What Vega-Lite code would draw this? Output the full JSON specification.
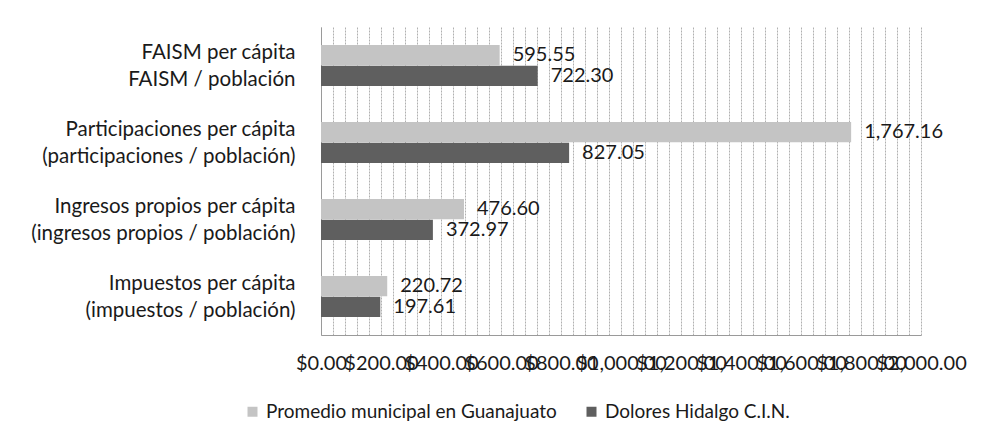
{
  "$schema": "https://vega.github.io/schema/vega-lite/v6.json",
  "width": 600,
  "height": 308,
  "autosize": {"type": "none"},
  "padding": {"left": 321, "top": 27, "right": 60, "bottom": 106},
  "background": "white",
  "data": {
    "values": [
      {"cat": "FAISM per cápita|FAISM / población", "serie": "Promedio municipal en Guanajuato", "valor": 595.55},
      {"cat": "FAISM per cápita|FAISM / población", "serie": "Dolores Hidalgo C.I.N.", "valor": 722.30},
      {"cat": "Participaciones per cápita|(participaciones / población)", "serie": "Promedio municipal en Guanajuato", "valor": 1767.16},
      {"cat": "Participaciones per cápita|(participaciones / población)", "serie": "Dolores Hidalgo C.I.N.", "valor": 827.05},
      {"cat": "Ingresos propios per cápita|(ingresos propios / población)", "serie": "Promedio municipal en Guanajuato", "valor": 476.60},
      {"cat": "Ingresos propios per cápita|(ingresos propios / población)", "serie": "Dolores Hidalgo C.I.N.", "valor": 372.97},
      {"cat": "Impuestos per cápita|(impuestos / población)", "serie": "Promedio municipal en Guanajuato", "valor": 220.72},
      {"cat": "Impuestos per cápita|(impuestos / población)", "serie": "Dolores Hidalgo C.I.N.", "valor": 197.61}
    ]
  },
  "encoding": {
    "y": {
      "field": "cat",
      "type": "nominal",
      "sort": [
        "FAISM per cápita|FAISM / población",
        "Participaciones per cápita|(participaciones / población)",
        "Ingresos propios per cápita|(ingresos propios / población)",
        "Impuestos per cápita|(impuestos / población)"
      ],
      "scale": {"paddingInner": 0.47, "paddingOuter": 0.235},
      "axis": {
        "title": null,
        "labelExpr": "split(datum.label, '|')",
        "labelFontSize": 20.5,
        "labelLineHeight": 27,
        "labelPadding": 26,
        "labelOffset": -13,
        "labelLimit": 400,
        "ticks": false,
        "domainColor": "#9a9a9a",
        "grid": false
      }
    },
    "yOffset": {
      "field": "serie",
      "type": "nominal",
      "sort": ["Promedio municipal en Guanajuato", "Dolores Hidalgo C.I.N."],
      "scale": {"paddingInner": 0.02}
    },
    "x": {
      "field": "valor",
      "type": "quantitative",
      "scale": {"domain": [0, 2000], "nice": false, "zero": true},
      "axis": {
        "title": null,
        "values": [0,40,80,120,160,200,240,280,320,360,400,440,480,520,560,600,640,680,720,760,800,840,880,920,960,1000,1040,1080,1120,1160,1200,1240,1280,1320,1360,1400,1440,1480,1520,1560,1600,1640,1680,1720,1760,1800,1840,1880,1920,1960,2000],
        "labelExpr": "datum.value % 200 === 0 ? format(datum.value, '$,.2f') : ''",
        "labelOverlap": false,
        "labelFlush": false,
        "labelFontSize": 20,
        "labelPadding": 18,
        "ticks": false,
        "grid": true,
        "gridColor": "#b0b0b0",
        "gridDash": [2, 1],
        "domainColor": "#9a9a9a"
      }
    }
  },
  "layer": [
    {
      "mark": {"type": "bar"},
      "encoding": {
        "color": {
          "field": "serie",
          "type": "nominal",
          "scale": {
            "domain": ["Promedio municipal en Guanajuato", "Dolores Hidalgo C.I.N."],
            "range": ["#c4c4c4", "#5f5f5f"]
          },
          "legend": {
            "title": null,
            "orient": "none",
            "legendX": -78,
            "legendY": 375,
            "direction": "horizontal",
            "symbolType": "square",
            "symbolSize": 100,
            "symbolStrokeWidth": 0,
            "labelFontSize": 19,
            "labelOffset": 4,
            "columnPadding": 25,
            "labelLimit": 400
          }
        }
      }
    },
    {
      "mark": {"type": "text", "align": "left", "baseline": "middle", "dx": 13, "fontSize": 20, "color": "#1a1a1a"},
      "encoding": {
        "text": {"field": "valor", "type": "quantitative", "format": ",.2f"}
      }
    }
  ],
  "config": {
    "view": {"stroke": null},
    "font": "Lato",
    "axis": {"labelFont": "Lato", "labelColor": "#1a1a1a"},
    "legend": {"labelFont": "Lato", "labelColor": "#1a1a1a"},
    "text": {"font": "Lato"}
  }
}
